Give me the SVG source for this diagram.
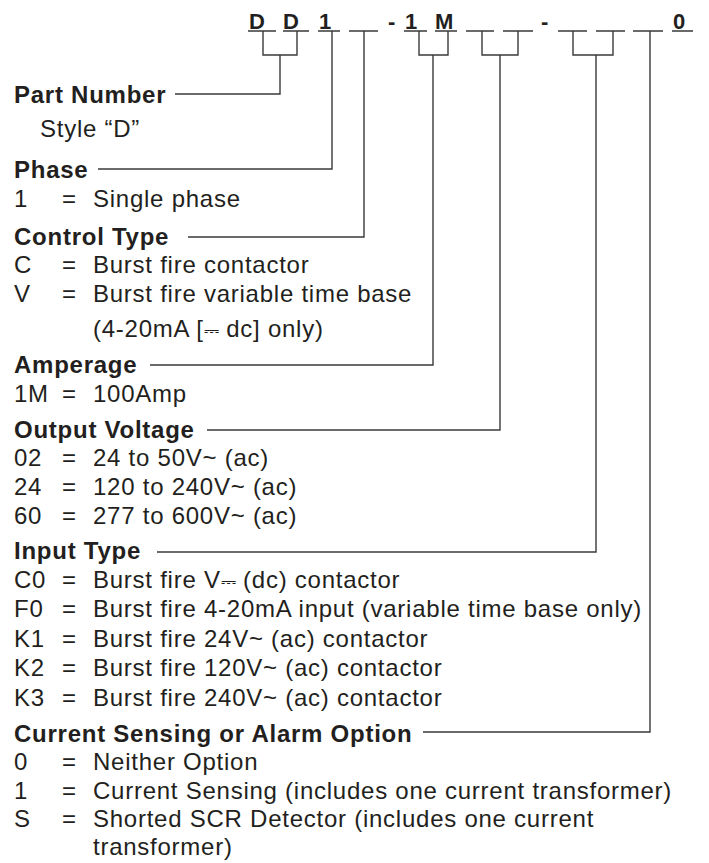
<svg xmlns="http://www.w3.org/2000/svg" width="709" height="863" viewBox="0 0 709 863">
<style>
text{font-family:"Liberation Sans",Arial,Helvetica,sans-serif;font-size:24px;fill:#231f20;letter-spacing:0.75px}
.h{font-weight:bold}
.pn{font-weight:bold;font-size:22px;letter-spacing:0}
.sym{font-family:"DejaVu Sans",sans-serif;font-size:19px;letter-spacing:0}
.ul{stroke:#3a3a3a;stroke-width:1.4;fill:none}
.c{stroke:#3a3a3a;stroke-width:1.4;fill:none}
</style>
<rect width="709" height="863" fill="#fff"/>
<g id="partnumber-code">
<text class="pn" x="249" y="29">D</text>
<text class="pn" x="283" y="29">D</text>
<text class="pn" x="319" y="29">1</text>
<text class="pn" x="388" y="29">-</text>
<text class="pn" x="405" y="29">1</text>
<text class="pn" x="435" y="29">M</text>
<text class="pn" x="541" y="29">-</text>
<text class="pn" x="673" y="29">0</text>
<path class="ul" d="M248,31H276M283,31H309M318,31H340M349,31H378M404,31H427M435,31H457M466,31H494M503,31H533M558,31H587M596,31H625M633,31H663M672,31H693"/>
</g>
<g id="connectors">
<path class="c" d="M263,31V55H297V31M280,55V94H175"/>
<path class="c" d="M332,31V169H98"/>
<path class="c" d="M364,31V237H188"/>
<path class="c" d="M419,31V55H448V31M433,55V365H150"/>
<path class="c" d="M482,31V55H518V31M500,55V430H207"/>
<path class="c" d="M573,31V55H613V31M596,55V552H157"/>
<path class="c" d="M650,31V732H423"/>
</g>
<g id="part-number">
<text class="h" x="14" y="103">Part Number</text>
<text x="40" y="137">Style “D”</text>
</g>
<g id="phase">
<text class="h" x="14" y="178">Phase</text>
<text x="14" y="207">1</text><text x="62" y="207">=</text><text x="93" y="207">Single phase</text>
</g>
<g id="control-type">
<text class="h" x="14" y="245">Control Type</text>
<text x="14" y="273">C</text><text x="62" y="273">=</text><text x="93" y="273">Burst fire contactor</text>
<text x="14" y="302">V</text><text x="62" y="302">=</text><text x="93" y="302">Burst fire variable time base</text>
<text x="93" y="337">(4-20mA [<tspan class="sym">⎓</tspan> dc] only)</text>
</g>
<g id="amperage">
<text class="h" x="14" y="373">Amperage</text>
<text x="14" y="402">1M</text><text x="62" y="402">=</text><text x="93" y="402">100Amp</text>
</g>
<g id="output-voltage">
<text class="h" x="14" y="438">Output Voltage</text>
<text x="14" y="466">02</text><text x="62" y="466">=</text><text x="93" y="466">24 to 50V~ (ac)</text>
<text x="14" y="495">24</text><text x="62" y="495">=</text><text x="93" y="495">120 to 240V~ (ac)</text>
<text x="14" y="524">60</text><text x="62" y="524">=</text><text x="93" y="524">277 to 600V~ (ac)</text>
</g>
<g id="input-type">
<text class="h" x="14" y="559">Input Type</text>
<text x="14" y="588">C0</text><text x="62" y="588">=</text><text x="93" y="588">Burst fire V<tspan class="sym">⎓</tspan> (dc) contactor</text>
<text x="14" y="617">F0</text><text x="62" y="617">=</text><text x="93" y="617">Burst fire 4-20mA input (variable time base only)</text>
<text x="14" y="647">K1</text><text x="62" y="647">=</text><text x="93" y="647">Burst fire 24V~ (ac) contactor</text>
<text x="14" y="676">K2</text><text x="62" y="676">=</text><text x="93" y="676">Burst fire 120V~ (ac) contactor</text>
<text x="14" y="706">K3</text><text x="62" y="706">=</text><text x="93" y="706">Burst fire 240V~ (ac) contactor</text>
</g>
<g id="current-sensing">
<text class="h" x="14" y="742">Current Sensing or Alarm Option</text>
<text x="14" y="770">0</text><text x="62" y="770">=</text><text x="93" y="770">Neither Option</text>
<text x="14" y="798.5">1</text><text x="62" y="798.5">=</text><text x="93" y="798.5">Current Sensing (includes one current transformer)</text>
<text x="14" y="827">S</text><text x="62" y="827">=</text><text x="93" y="827">Shorted SCR Detector (includes one current</text>
<text x="93" y="855">transformer)</text>
</g>
</svg>
